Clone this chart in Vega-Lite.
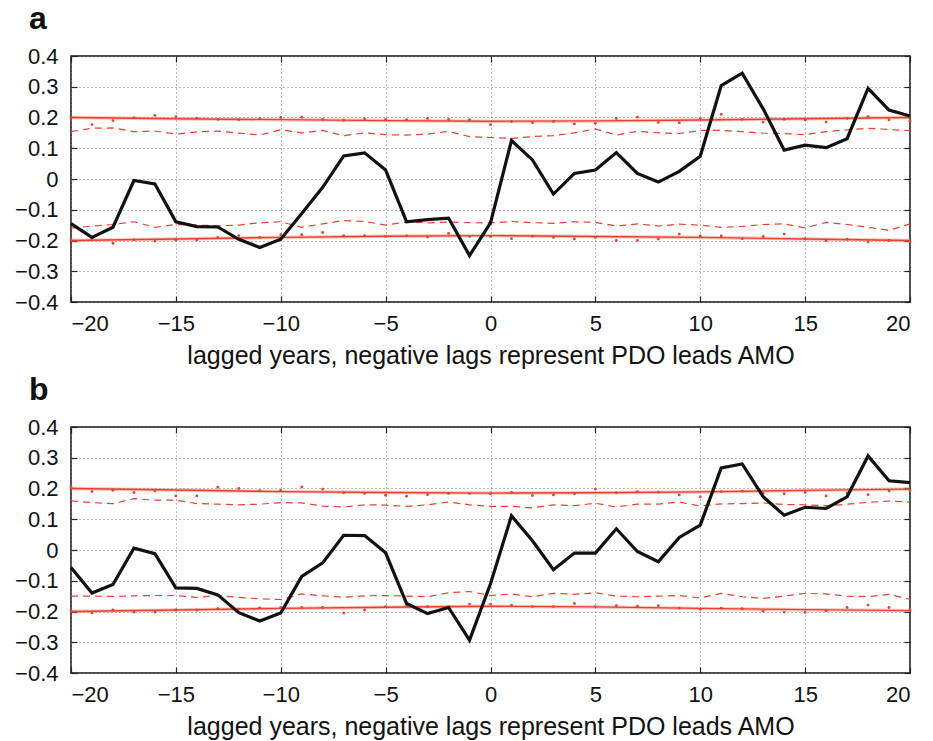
{
  "$schema": "https://vega.github.io/schema/vega-lite/v6.json",
  "padding": {"left": 13, "top": 2, "right": 20, "bottom": 0},
  "spacing": 4,
  "config": {
    "font": "Liberation Sans",
    "view": {"stroke": "#111", "strokeWidth": 1.5},
    "axis": {
      "labelFontSize": 22, "labelColor": "#111", "titleFontSize": 25, "titleColor": "#111",
      "titleFontWeight": "normal", "tickColor": "#222", "tickWidth": 1.2, "domain": false,
      "gridColor": "#777", "gridDash": [1, 3], "gridWidth": 1
    }
  },
  "datasets": {
    "a": [
      {"lag": -20, "r": -0.145, "dhi": 0.154, "dlo": -0.16, "phi": 0.2, "plo": -0.198},
      {"lag": -19, "r": -0.19, "dhi": 0.165, "dlo": -0.153, "phi": 0.177, "plo": -0.193},
      {"lag": -18, "r": -0.157, "dhi": 0.166, "dlo": -0.148, "phi": 0.19, "plo": -0.209},
      {"lag": -17, "r": -0.005, "dhi": 0.154, "dlo": -0.139, "phi": 0.199, "plo": -0.198},
      {"lag": -16, "r": -0.016, "dhi": 0.156, "dlo": -0.157, "phi": 0.207, "plo": -0.202},
      {"lag": -15, "r": -0.139, "dhi": 0.146, "dlo": -0.148, "phi": 0.203, "plo": -0.198},
      {"lag": -14, "r": -0.155, "dhi": 0.153, "dlo": -0.15, "phi": 0.198, "plo": -0.198},
      {"lag": -13, "r": -0.156, "dhi": 0.156, "dlo": -0.152, "phi": 0.194, "plo": -0.19},
      {"lag": -12, "r": -0.196, "dhi": 0.149, "dlo": -0.15, "phi": 0.193, "plo": -0.184},
      {"lag": -11, "r": -0.223, "dhi": 0.143, "dlo": -0.142, "phi": 0.196, "plo": -0.19},
      {"lag": -10, "r": -0.196, "dhi": 0.16, "dlo": -0.139, "phi": 0.2, "plo": -0.181},
      {"lag": -9, "r": -0.112, "dhi": 0.15, "dlo": -0.157, "phi": 0.201, "plo": -0.181},
      {"lag": -8, "r": -0.027, "dhi": 0.158, "dlo": -0.146, "phi": 0.194, "plo": -0.174},
      {"lag": -7, "r": 0.075, "dhi": 0.141, "dlo": -0.135, "phi": 0.191, "plo": -0.184},
      {"lag": -6, "r": 0.085, "dhi": 0.15, "dlo": -0.138, "phi": 0.195, "plo": -0.184},
      {"lag": -5, "r": 0.029, "dhi": 0.144, "dlo": -0.15, "phi": 0.194, "plo": -0.187},
      {"lag": -4, "r": -0.139, "dhi": 0.143, "dlo": -0.14, "phi": 0.193, "plo": -0.185},
      {"lag": -3, "r": -0.132, "dhi": 0.146, "dlo": -0.143, "phi": 0.197, "plo": -0.189},
      {"lag": -2, "r": -0.127, "dhi": 0.155, "dlo": -0.14, "phi": 0.194, "plo": -0.177},
      {"lag": -1, "r": -0.249, "dhi": 0.138, "dlo": -0.142, "phi": 0.193, "plo": -0.187},
      {"lag": 0, "r": -0.143, "dhi": 0.135, "dlo": -0.143, "phi": 0.177, "plo": -0.187},
      {"lag": 1, "r": 0.125, "dhi": 0.132, "dlo": -0.138, "phi": 0.187, "plo": -0.194},
      {"lag": 2, "r": 0.062, "dhi": 0.138, "dlo": -0.142, "phi": 0.183, "plo": -0.186},
      {"lag": 3, "r": -0.049, "dhi": 0.141, "dlo": -0.144, "phi": 0.187, "plo": -0.19},
      {"lag": 4, "r": 0.018, "dhi": 0.15, "dlo": -0.139, "phi": 0.179, "plo": -0.195},
      {"lag": 5, "r": 0.029, "dhi": 0.163, "dlo": -0.141, "phi": 0.181, "plo": -0.19},
      {"lag": 6, "r": 0.086, "dhi": 0.143, "dlo": -0.153, "phi": 0.197, "plo": -0.2},
      {"lag": 7, "r": 0.018, "dhi": 0.155, "dlo": -0.146, "phi": 0.201, "plo": -0.2},
      {"lag": 8, "r": -0.01, "dhi": 0.15, "dlo": -0.153, "phi": 0.184, "plo": -0.195},
      {"lag": 9, "r": 0.025, "dhi": 0.148, "dlo": -0.147, "phi": 0.183, "plo": -0.179},
      {"lag": 10, "r": 0.074, "dhi": 0.158, "dlo": -0.15, "phi": 0.197, "plo": -0.185},
      {"lag": 11, "r": 0.304, "dhi": 0.158, "dlo": -0.157, "phi": 0.21, "plo": -0.185},
      {"lag": 12, "r": 0.344, "dhi": 0.154, "dlo": -0.154, "phi": 0.194, "plo": -0.194},
      {"lag": 13, "r": 0.228, "dhi": 0.149, "dlo": -0.148, "phi": 0.185, "plo": -0.187},
      {"lag": 14, "r": 0.094, "dhi": 0.148, "dlo": -0.146, "phi": 0.194, "plo": -0.179},
      {"lag": 15, "r": 0.11, "dhi": 0.144, "dlo": -0.159, "phi": 0.192, "plo": -0.194},
      {"lag": 16, "r": 0.102, "dhi": 0.154, "dlo": -0.141, "phi": 0.185, "plo": -0.2},
      {"lag": 17, "r": 0.131, "dhi": 0.16, "dlo": -0.148, "phi": 0.197, "plo": -0.196},
      {"lag": 18, "r": 0.295, "dhi": 0.165, "dlo": -0.157, "phi": 0.203, "plo": -0.205},
      {"lag": 19, "r": 0.224, "dhi": 0.161, "dlo": -0.167, "phi": 0.192, "plo": -0.2},
      {"lag": 20, "r": 0.205, "dhi": 0.157, "dlo": -0.146, "phi": 0.188, "plo": -0.205}
    ],
    "b": [
      {"lag": -20, "r": -0.057, "dhi": 0.16, "dlo": -0.15, "phi": 0.206, "plo": -0.198},
      {"lag": -19, "r": -0.14, "dhi": 0.154, "dlo": -0.15, "phi": 0.19, "plo": -0.205},
      {"lag": -18, "r": -0.112, "dhi": 0.151, "dlo": -0.151, "phi": 0.194, "plo": -0.195},
      {"lag": -17, "r": 0.006, "dhi": 0.167, "dlo": -0.149, "phi": 0.187, "plo": -0.202},
      {"lag": -16, "r": -0.012, "dhi": 0.162, "dlo": -0.148, "phi": 0.192, "plo": -0.202},
      {"lag": -15, "r": -0.123, "dhi": 0.162, "dlo": -0.148, "phi": 0.176, "plo": -0.195},
      {"lag": -14, "r": -0.125, "dhi": 0.151, "dlo": -0.154, "phi": 0.176, "plo": -0.195},
      {"lag": -13, "r": -0.146, "dhi": 0.149, "dlo": -0.148, "phi": 0.204, "plo": -0.191},
      {"lag": -12, "r": -0.204, "dhi": 0.147, "dlo": -0.154, "phi": 0.2, "plo": -0.192},
      {"lag": -11, "r": -0.231, "dhi": 0.149, "dlo": -0.159, "phi": 0.193, "plo": -0.188},
      {"lag": -10, "r": -0.205, "dhi": 0.154, "dlo": -0.161, "phi": 0.194, "plo": -0.187},
      {"lag": -9, "r": -0.086, "dhi": 0.153, "dlo": -0.143, "phi": 0.205, "plo": -0.187},
      {"lag": -8, "r": -0.042, "dhi": 0.143, "dlo": -0.149, "phi": 0.198, "plo": -0.187},
      {"lag": -7, "r": 0.048, "dhi": 0.14, "dlo": -0.154, "phi": 0.186, "plo": -0.205},
      {"lag": -6, "r": 0.047, "dhi": 0.147, "dlo": -0.149, "phi": 0.184, "plo": -0.195},
      {"lag": -5, "r": -0.009, "dhi": 0.146, "dlo": -0.148, "phi": 0.178, "plo": -0.184},
      {"lag": -4, "r": -0.174, "dhi": 0.142, "dlo": -0.15, "phi": 0.175, "plo": -0.181},
      {"lag": -3, "r": -0.207, "dhi": 0.147, "dlo": -0.152, "phi": 0.18, "plo": -0.184},
      {"lag": -2, "r": -0.187, "dhi": 0.156, "dlo": -0.139, "phi": 0.184, "plo": -0.184},
      {"lag": -1, "r": -0.293, "dhi": 0.147, "dlo": -0.135, "phi": 0.184, "plo": -0.176},
      {"lag": 0, "r": -0.11, "dhi": 0.142, "dlo": -0.148, "phi": 0.183, "plo": -0.176},
      {"lag": 1, "r": 0.111, "dhi": 0.142, "dlo": -0.143, "phi": 0.187, "plo": -0.179},
      {"lag": 2, "r": 0.03, "dhi": 0.137, "dlo": -0.152, "phi": 0.177, "plo": -0.184},
      {"lag": 3, "r": -0.064, "dhi": 0.147, "dlo": -0.141, "phi": 0.179, "plo": -0.184},
      {"lag": 4, "r": -0.01, "dhi": 0.144, "dlo": -0.144, "phi": 0.183, "plo": -0.174},
      {"lag": 5, "r": -0.01, "dhi": 0.152, "dlo": -0.139, "phi": 0.198, "plo": -0.184},
      {"lag": 6, "r": 0.069, "dhi": 0.14, "dlo": -0.15, "phi": 0.186, "plo": -0.181},
      {"lag": 7, "r": -0.005, "dhi": 0.149, "dlo": -0.152, "phi": 0.19, "plo": -0.183},
      {"lag": 8, "r": -0.038, "dhi": 0.149, "dlo": -0.15, "phi": 0.188, "plo": -0.181},
      {"lag": 9, "r": 0.041, "dhi": 0.156, "dlo": -0.148, "phi": 0.179, "plo": -0.189},
      {"lag": 10, "r": 0.081, "dhi": 0.143, "dlo": -0.156, "phi": 0.173, "plo": -0.193},
      {"lag": 11, "r": 0.267, "dhi": 0.15, "dlo": -0.141, "phi": 0.19, "plo": -0.189},
      {"lag": 12, "r": 0.28, "dhi": 0.151, "dlo": -0.152, "phi": 0.191, "plo": -0.191},
      {"lag": 13, "r": 0.173, "dhi": 0.153, "dlo": -0.157, "phi": 0.184, "plo": -0.199},
      {"lag": 14, "r": 0.113, "dhi": 0.148, "dlo": -0.15, "phi": 0.183, "plo": -0.202},
      {"lag": 15, "r": 0.139, "dhi": 0.147, "dlo": -0.141, "phi": 0.187, "plo": -0.203},
      {"lag": 16, "r": 0.135, "dhi": 0.144, "dlo": -0.143, "phi": 0.176, "plo": -0.198},
      {"lag": 17, "r": 0.173, "dhi": 0.149, "dlo": -0.15, "phi": 0.186, "plo": -0.187},
      {"lag": 18, "r": 0.306, "dhi": 0.155, "dlo": -0.152, "phi": 0.18, "plo": -0.179},
      {"lag": 19, "r": 0.225, "dhi": 0.159, "dlo": -0.144, "phi": 0.192, "plo": -0.187},
      {"lag": 20, "r": 0.219, "dhi": 0.156, "dlo": -0.161, "phi": 0.192, "plo": -0.195}
    ],
    "aband": [
      {"lag": -20, "hi": 0.2, "lo": -0.2},
      {"lag": -15, "hi": 0.196, "lo": -0.195},
      {"lag": -10, "hi": 0.193, "lo": -0.19},
      {"lag": -5, "hi": 0.19, "lo": -0.186},
      {"lag": 0, "hi": 0.188, "lo": -0.184},
      {"lag": 5, "hi": 0.189, "lo": -0.187},
      {"lag": 10, "hi": 0.192, "lo": -0.19},
      {"lag": 15, "hi": 0.196, "lo": -0.195},
      {"lag": 20, "hi": 0.2, "lo": -0.2}
    ],
    "bband": [
      {"lag": -20, "hi": 0.2, "lo": -0.2},
      {"lag": -15, "hi": 0.195, "lo": -0.195},
      {"lag": -10, "hi": 0.19, "lo": -0.19},
      {"lag": -5, "hi": 0.187, "lo": -0.186},
      {"lag": 0, "hi": 0.185, "lo": -0.183},
      {"lag": 5, "hi": 0.186, "lo": -0.185},
      {"lag": 10, "hi": 0.189, "lo": -0.19},
      {"lag": 15, "hi": 0.194, "lo": -0.194},
      {"lag": 20, "hi": 0.198, "lo": -0.197}
    ]
  },
  "vconcat": [
    {
      "width": 839, "height": 246,
      "title": {"text": "a", "anchor": "start", "frame": "group", "fontSize": 32, "fontWeight": "bold", "color": "#111", "dx": -42, "offset": 9},
      "resolve": {"axis": {"x": "independent", "y": "independent"}},
      "layer": [
        {
          "data": {"name": "aband"},
          "mark": {"type": "line", "color": "#f08070", "strokeWidth": 3.5, "opacity": 0.45},
          "encoding": {
            "x": {"field": "lag", "type": "quantitative", "scale": {"domain": [-20, 20], "nice": false},
              "axis": {"orient": "bottom", "values": [-20, -15, -10, -5, 0, 5, 10, 15, 20], "grid": true, "tickSize": -6, "labelPadding": 17, "title": "lagged years, negative lags represent PDO leads AMO", "titlePadding": 9}},
            "y": {"field": "hi", "type": "quantitative", "scale": {"domain": [-0.4, 0.4], "nice": false},
              "axis": {"orient": "left", "values": [-0.4, -0.3, -0.2, -0.1, 0, 0.1, 0.2, 0.3, 0.4], "grid": true, "tickSize": -6, "labelPadding": 19, "title": null, "labelExpr": "datum.value == 0 ? '0' : format(datum.value, '.1f')"}}
          }
        },
        {
          "data": {"name": "aband"},
          "mark": {"type": "line", "color": "#f08070", "strokeWidth": 3.5, "opacity": 0.45},
          "encoding": {"x": {"field": "lag", "type": "quantitative", "axis": null}, "y": {"field": "lo", "type": "quantitative", "axis": null}}
        },
        {
          "data": {"name": "aband"},
          "mark": {"type": "line", "color": "#e8412c", "strokeWidth": 1.4},
          "encoding": {"x": {"field": "lag", "type": "quantitative", "axis": null}, "y": {"field": "hi", "type": "quantitative", "axis": null}}
        },
        {
          "data": {"name": "aband"},
          "mark": {"type": "line", "color": "#e8412c", "strokeWidth": 1.4},
          "encoding": {"x": {"field": "lag", "type": "quantitative", "axis": null}, "y": {"field": "lo", "type": "quantitative", "axis": null}}
        },
        {
          "data": {"name": "a"},
          "mark": {"type": "line", "color": "#e8412c", "strokeWidth": 1.2, "strokeDash": [7, 5]},
          "encoding": {"x": {"field": "lag", "type": "quantitative", "axis": null}, "y": {"field": "dhi", "type": "quantitative", "axis": null}}
        },
        {
          "data": {"name": "a"},
          "mark": {"type": "line", "color": "#e8412c", "strokeWidth": 1.2, "strokeDash": [7, 5]},
          "encoding": {"x": {"field": "lag", "type": "quantitative", "axis": null}, "y": {"field": "dlo", "type": "quantitative", "axis": null}}
        },
        {
          "data": {"name": "a"},
          "mark": {"type": "circle", "color": "#e8412c", "size": 8, "opacity": 1},
          "encoding": {"x": {"field": "lag", "type": "quantitative", "axis": null}, "y": {"field": "phi", "type": "quantitative", "axis": null}}
        },
        {
          "data": {"name": "a"},
          "mark": {"type": "circle", "color": "#e8412c", "size": 8, "opacity": 1},
          "encoding": {"x": {"field": "lag", "type": "quantitative", "axis": null}, "y": {"field": "plo", "type": "quantitative", "axis": null}}
        },
        {
          "data": {"name": "a"},
          "mark": {"type": "line", "color": "#111", "strokeWidth": 3.2},
          "encoding": {
            "x": {"field": "lag", "type": "quantitative",
              "axis": {"orient": "top", "values": [-20, -15, -10, -5, 0, 5, 10, 15, 20], "grid": false, "labels": false, "tickSize": -6, "title": null}},
            "y": {"field": "r", "type": "quantitative",
              "axis": {"orient": "right", "values": [-0.4, -0.3, -0.2, -0.1, 0, 0.1, 0.2, 0.3, 0.4], "grid": false, "labels": false, "tickSize": -6, "title": null}}
          }
        }
      ]
    },
    {
      "width": 839, "height": 246,
      "title": {"text": "b", "anchor": "start", "frame": "group", "fontSize": 32, "fontWeight": "bold", "color": "#111", "dx": -42, "offset": 9},
      "resolve": {"axis": {"x": "independent", "y": "independent"}},
      "layer": [
        {
          "data": {"name": "bband"},
          "mark": {"type": "line", "color": "#f08070", "strokeWidth": 3.5, "opacity": 0.45},
          "encoding": {
            "x": {"field": "lag", "type": "quantitative", "scale": {"domain": [-20, 20], "nice": false},
              "axis": {"orient": "bottom", "values": [-20, -15, -10, -5, 0, 5, 10, 15, 20], "grid": true, "tickSize": -6, "labelPadding": 17, "title": "lagged years, negative lags represent PDO leads AMO", "titlePadding": 9}},
            "y": {"field": "hi", "type": "quantitative", "scale": {"domain": [-0.4, 0.4], "nice": false},
              "axis": {"orient": "left", "values": [-0.4, -0.3, -0.2, -0.1, 0, 0.1, 0.2, 0.3, 0.4], "grid": true, "tickSize": -6, "labelPadding": 19, "title": null, "labelExpr": "datum.value == 0 ? '0' : format(datum.value, '.1f')"}}
          }
        },
        {
          "data": {"name": "bband"},
          "mark": {"type": "line", "color": "#f08070", "strokeWidth": 3.5, "opacity": 0.45},
          "encoding": {"x": {"field": "lag", "type": "quantitative", "axis": null}, "y": {"field": "lo", "type": "quantitative", "axis": null}}
        },
        {
          "data": {"name": "bband"},
          "mark": {"type": "line", "color": "#e8412c", "strokeWidth": 1.4},
          "encoding": {"x": {"field": "lag", "type": "quantitative", "axis": null}, "y": {"field": "hi", "type": "quantitative", "axis": null}}
        },
        {
          "data": {"name": "bband"},
          "mark": {"type": "line", "color": "#e8412c", "strokeWidth": 1.4},
          "encoding": {"x": {"field": "lag", "type": "quantitative", "axis": null}, "y": {"field": "lo", "type": "quantitative", "axis": null}}
        },
        {
          "data": {"name": "b"},
          "mark": {"type": "line", "color": "#e8412c", "strokeWidth": 1.2, "strokeDash": [7, 5]},
          "encoding": {"x": {"field": "lag", "type": "quantitative", "axis": null}, "y": {"field": "dhi", "type": "quantitative", "axis": null}}
        },
        {
          "data": {"name": "b"},
          "mark": {"type": "line", "color": "#e8412c", "strokeWidth": 1.2, "strokeDash": [7, 5]},
          "encoding": {"x": {"field": "lag", "type": "quantitative", "axis": null}, "y": {"field": "dlo", "type": "quantitative", "axis": null}}
        },
        {
          "data": {"name": "b"},
          "mark": {"type": "circle", "color": "#e8412c", "size": 8, "opacity": 1},
          "encoding": {"x": {"field": "lag", "type": "quantitative", "axis": null}, "y": {"field": "phi", "type": "quantitative", "axis": null}}
        },
        {
          "data": {"name": "b"},
          "mark": {"type": "circle", "color": "#e8412c", "size": 8, "opacity": 1},
          "encoding": {"x": {"field": "lag", "type": "quantitative", "axis": null}, "y": {"field": "plo", "type": "quantitative", "axis": null}}
        },
        {
          "data": {"name": "b"},
          "mark": {"type": "line", "color": "#111", "strokeWidth": 3.2},
          "encoding": {
            "x": {"field": "lag", "type": "quantitative",
              "axis": {"orient": "top", "values": [-20, -15, -10, -5, 0, 5, 10, 15, 20], "grid": false, "labels": false, "tickSize": -6, "title": null}},
            "y": {"field": "r", "type": "quantitative",
              "axis": {"orient": "right", "values": [-0.4, -0.3, -0.2, -0.1, 0, 0.1, 0.2, 0.3, 0.4], "grid": false, "labels": false, "tickSize": -6, "title": null}}
          }
        }
      ]
    }
  ]
}
